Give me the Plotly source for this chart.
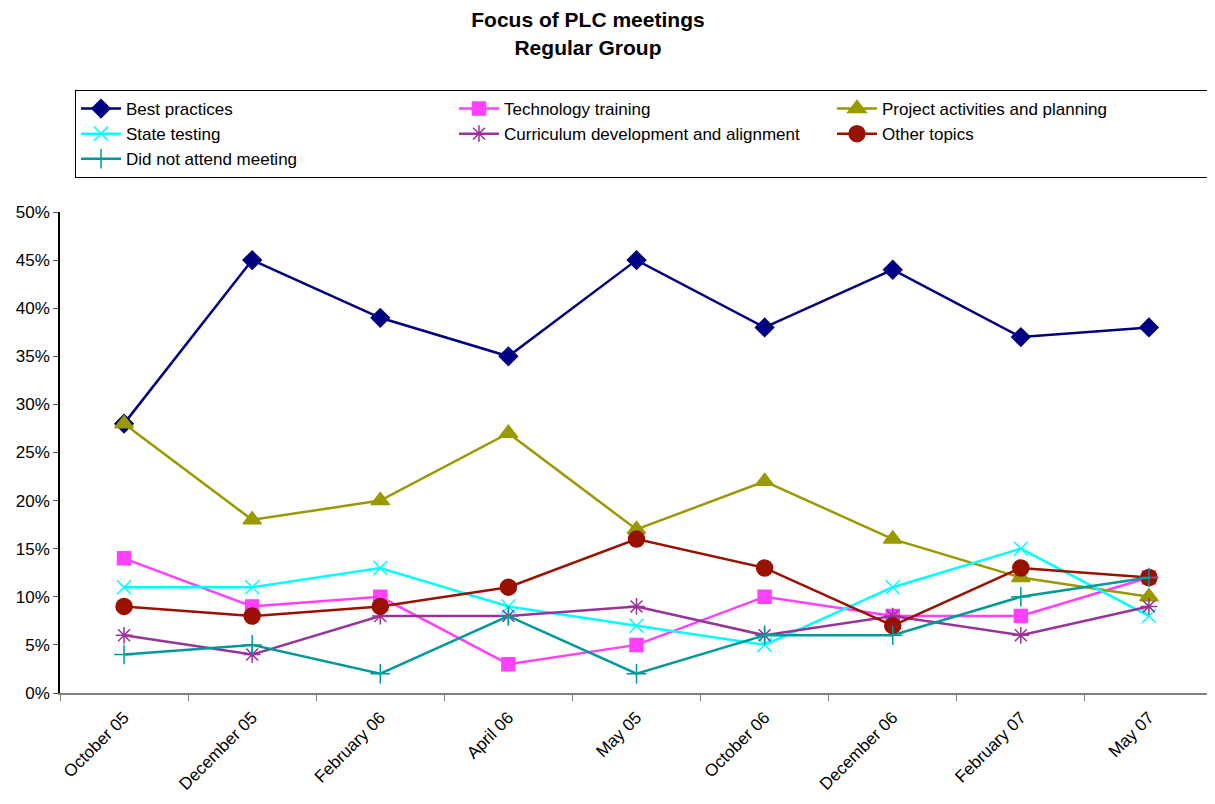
import plotly.graph_objects as go

categories = ["October 05", "December 05", "February 06", "April 06", "May 05",
              "October 06", "December 06", "February 07", "May 07"]

best_practices = [28, 45, 39, 35, 45, 38, 44, 37, 38]
technology_training = [14, 9, 10, 3, 5, 10, 8, 8, 12]
project_activities = [28, 18, 20, 27, 17, 22, 16, 12, 10]
state_testing = [11, 11, 13, 9, 7, 5, 11, 15, 8]
curriculum = [6, 4, 8, 8, 9, 6, 8, 6, 9]
other_topics = [9, 8, 9, 11, 16, 13, 7, 13, 12]
did_not_attend = [4, 5, 2, 8, 2, 6, 6, 10, 12]

series = [
    ("Best practices", best_practices, "#000080", "diamond", 14),
    ("Technology training", technology_training, "#FF40FF", "square", 13),
    ("Project activities and planning", project_activities, "#999900", "triangle-up", 16),
    ("State testing", state_testing, "#00FFFF", "x-thin-open", 14),
    ("Curriculum development and alignment", curriculum, "#993399", "asterisk-open", 14),
    ("Other topics", other_topics, "#991100", "circle", 16),
    ("Did not attend meeting", did_not_attend, "#009999", "cross-thin-open", 14),
]

fig = go.Figure()
for name, vals, color, sym, size in series:
    fig.add_trace(go.Scatter(
        x=categories, y=[v / 100 for v in vals], name=name, mode="lines+markers",
        line=dict(color=color, width=2.5),
        marker=dict(symbol=sym, size=size, color=color, line=dict(color=color, width=1.5)),
    ))

fig.update_layout(
    width=1207, height=796,
    paper_bgcolor="white", plot_bgcolor="white",
    font=dict(family="Liberation Sans, Arial, sans-serif", size=17, color="black"),
    margin=dict(l=52, r=2, t=204, b=111, autoexpand=False),
    title=dict(text="<b>Focus of PLC meetings<br>Regular Group</b>", x=0.4805, xanchor="center",
               xref="container", yref="container", y=0.9757, yanchor="top",
               font=dict(size=21)),
    legend=dict(orientation="h", xref="container", yref="container",
                x=0.0555, xanchor="left", y=0.897, yanchor="top",
                bordercolor="black", borderwidth=1, entrywidth=323, tracegroupgap=0,
                font=dict(size=17), itemwidth=40),
    showlegend=True,
)
fig.update_xaxes(type="category", showline=True, linecolor="#808080", linewidth=2,
                 ticks="outside", tickcolor="#808080", ticklen=6, tickson="boundaries",
                 tickangle=-45, showgrid=False, range=[-0.5, 8.5],
                 tickfont=dict(size=17), ticklabelstandoff=6)
fig.update_yaxes(range=[0, 0.5], dtick=0.05, tickformat=".0%", showline=True,
                 linecolor="black", linewidth=1.5, ticks="outside", tickcolor="#555555",
                 ticklen=5, showgrid=False, zeroline=False, tickfont=dict(size=17))

fig.write_html("out.html")
